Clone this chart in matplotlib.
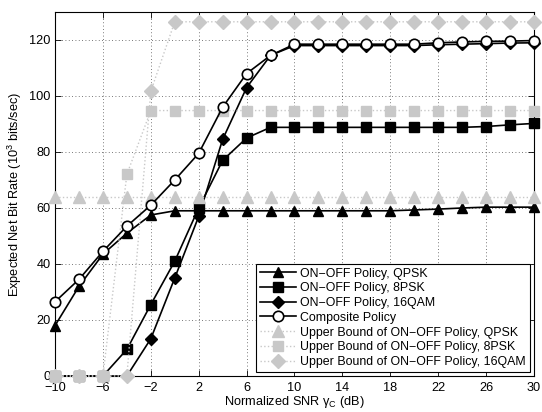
import matplotlib
matplotlib.use("Agg")
import matplotlib.pyplot as plt

plt.rcParams['font.family'] = ['Liberation Sans', 'DejaVu Sans']

snr = [-10, -8, -6, -4, -2, 0, 2, 4, 6, 8, 10, 12, 14, 16, 18, 20, 22, 24, 26, 28, 30]

qpsk = [18, 32, 43.5, 51, 57.5, 59, 59, 59, 59, 59, 59, 59, 59, 59, 59, 59.3, 59.6, 60, 60.3, 60.3, 60.3]
psk8 = [0, 0, 0, 9.5, 25.5, 41, 60, 77, 85, 88.8, 88.8, 88.8, 88.8, 88.8, 88.8, 88.8, 88.8, 88.8, 89.1, 89.7, 90.2]
qam16 = [0, 0, 0, 0, 13.3, 35, 57, 84.5, 103, 114.5, 118, 118, 118, 118, 118, 118, 118.3, 118.5, 118.7, 118.9, 119]
composite = [26.5, 34.5, 44.5, 53.5, 61, 70, 79.5, 96, 108, 114.5, 118.5, 118.5, 118.5, 118.5, 118.5, 118.5, 119, 119.3, 119.5, 119.6, 119.8]

ub_qpsk = [64] * 21
ub_psk8 = [0, 0, 0, 72, 94.8] + [94.8] * 16
ub_qam16 = [0, 0, 0, 0, 101.7] + [126.5] * 16

labels = ['ON\u2212OFF Policy, QPSK', 'ON\u2212OFF Policy, 8PSK', 'ON\u2212OFF Policy, 16QAM',
          'Composite Policy', 'Upper Bound of ON\u2212OFF Policy, QPSK',
          'Upper Bound of ON\u2212OFF Policy, 8PSK', 'Upper Bound of ON\u2212OFF Policy, 16QAM']

fig = plt.figure(figsize=(5.42, 4.12), dpi=100)
ax = fig.add_axes([0.1015, 0.0874, 0.8837, 0.8835])

gray = '#c8c8c8'
lw = 1.2
h1, = ax.plot(snr, qpsk, '-', color='k', marker='^', ms=7.5, mfc='k', mec='k', lw=lw, zorder=3, clip_on=False)
h2, = ax.plot(snr, psk8, '-', color='k', marker='s', ms=7, mfc='k', mec='k', lw=lw, zorder=3, clip_on=False)
h3, = ax.plot(snr, qam16, '-', color='k', marker='D', ms=6.5, mfc='k', mec='k', lw=lw, zorder=3, clip_on=False)
h5, = ax.plot(snr, ub_qpsk, ':', color=gray, marker='^', ms=8.5, mfc=gray, mec=gray, lw=1.0, zorder=4, clip_on=False)
h6, = ax.plot(snr, ub_psk8, ':', color=gray, marker='s', ms=7.5, mfc=gray, mec=gray, lw=1.0, zorder=4, clip_on=False)
h7, = ax.plot(snr, ub_qam16, ':', color=gray, marker='D', ms=7, mfc=gray, mec=gray, lw=1.0, zorder=4, clip_on=False)
h4, = ax.plot(snr, composite, '-', color='k', marker='o', ms=7.5, mfc='white', mec='k', mew=1.2, lw=lw, zorder=5, clip_on=False)

ax.set_xlim(-10, 30)
ax.set_ylim(0, 130)
ax.set_xticks(range(-10, 31, 4))
ax.set_yticks(range(0, 121, 20))
ax.tick_params(direction='in', top=True, right=True, labelsize=9.2, length=4, width=0.6)
ax.tick_params(axis='x', pad=4.5)
ax.tick_params(axis='y', pad=3)
ax.grid(True, linestyle=(0, (1, 3)), color='k', linewidth=0.6, alpha=0.7)
ax.set_axisbelow(True)
for s in ax.spines.values():
    s.set_linewidth(0.8)

ax.set_xlabel('Normalized SNR $\\mathregular{\\gamma_C}$ (dB)', fontsize=9.2, labelpad=0)
ax.set_ylabel('Expected Net Bit Rate (10$\\mathregular{^3}$ bits/sec)', fontsize=9.2, labelpad=4)

leg = ax.legend([h1, h2, h3, h4, h5, h6, h7], labels, loc='lower right', fontsize=8.9,
                frameon=True, fancybox=False, edgecolor='k', framealpha=1,
                borderpad=0.3, labelspacing=0.22, handlelength=2.9, handletextpad=0.35,
                borderaxespad=0.35)
leg.get_frame().set_linewidth(0.8)
leg.set_zorder(10)

fig.savefig('out.png', dpi=100)
